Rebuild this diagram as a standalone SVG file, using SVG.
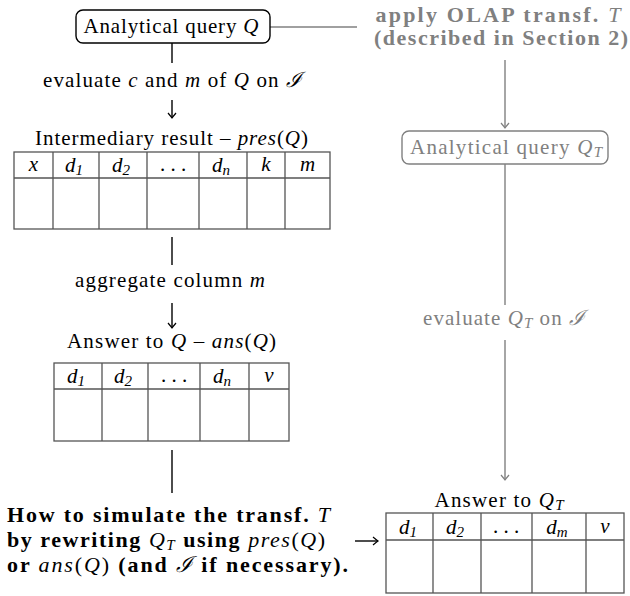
<svg xmlns="http://www.w3.org/2000/svg" width="630" height="596" viewBox="0 0 630 596">
<style>
text{font-family:"Liberation Serif","DejaVu Serif",serif;font-size:21px;fill:#000}
.g{fill:#808080}
.b{font-weight:bold;font-size:22px}
.m{font-style:italic;font-weight:normal}
.s{font-size:15px}
.mid{text-anchor:middle}
.cal{font-family:"DejaVu Serif","Liberation Serif",serif;font-style:italic}
.tb{fill:none;stroke:#555;stroke-width:1.3}
.box{fill:#fff;stroke:#000;stroke-width:1.4}
.gbox{fill:#fff;stroke:#808080;stroke-width:1.4}
.cb{stroke:#000;stroke-width:1.4;fill:none}
.cg{stroke:#808080;stroke-width:1.4;fill:none}
</style>
<defs>
<marker id="ab" markerUnits="userSpaceOnUse" markerWidth="12" markerHeight="12" viewBox="-6 -6 12 12" refX="0" refY="0" orient="auto">
<path d="M-5,-4 Q-1.5,-1 0,0 Q-1.5,1 -5,4" fill="none" stroke="#000" stroke-width="1.2"/>
</marker>
<marker id="ag" markerUnits="userSpaceOnUse" markerWidth="12" markerHeight="12" viewBox="-6 -6 12 12" refX="0" refY="0" orient="auto">
<path d="M-5,-4 Q-1.5,-1 0,0 Q-1.5,1 -5,4" fill="none" stroke="#808080" stroke-width="1.2"/>
</marker>
</defs>

<g id="connectors">
<line class="cg" x1="270" y1="27" x2="357" y2="27"/>
<line class="cg" x1="505" y1="60" x2="505" y2="128" marker-end="url(#ag)"/>
<line class="cg" x1="505" y1="164" x2="505" y2="305"/>
<line class="cg" x1="505" y1="340" x2="505" y2="480" marker-end="url(#ag)"/>
<line class="cb" x1="172" y1="43" x2="172" y2="63"/>
<line class="cb" x1="172" y1="100" x2="172" y2="118" marker-end="url(#ab)"/>
<line class="cb" x1="172" y1="237" x2="172" y2="265"/>
<line class="cb" x1="172" y1="303" x2="172" y2="328" marker-end="url(#ab)"/>
<line class="cb" x1="172" y1="450" x2="172" y2="493"/>
<line class="cb" x1="355" y1="541" x2="378" y2="541" marker-end="url(#ab)"/>
<text class="mid" x="172.5" y="87" textLength="259" lengthAdjust="spacing">evaluate <tspan class="m">c</tspan> and <tspan class="m">m</tspan> of <tspan class="m">Q</tspan> on <tspan class="cal">ℐ</tspan></text>
<text class="mid" x="170" y="287" textLength="190" lengthAdjust="spacing">aggregate column <tspan class="m">m</tspan></text>
<text class="mid g" x="504" y="325" textLength="162" lengthAdjust="spacing">evaluate <tspan class="m">Q</tspan><tspan class="m s" dy="3">T</tspan><tspan dy="-3"> on </tspan><tspan class="cal">ℐ</tspan></text>
</g>

<g id="query-q">
<rect class="box" x="76" y="10" width="194" height="33" rx="7"/>
<text class="mid" x="171" y="33" textLength="175" lengthAdjust="spacing">Analytical query <tspan class="m">Q</tspan></text>
</g>

<g id="olap-label">
<text class="mid g b" x="498" y="22" textLength="245" lengthAdjust="spacing">apply OLAP transf. <tspan class="m">T</tspan></text>
<text class="mid g b" x="501" y="45" textLength="254" lengthAdjust="spacing">(described in Section 2)</text>
</g>

<g id="query-qt">
<rect class="gbox" x="402" y="131" width="206" height="33" rx="7"/>
<text class="mid g" x="506" y="154" textLength="192" lengthAdjust="spacing">Analytical query <tspan class="m">Q</tspan><tspan class="m s" dy="3">T</tspan></text>
</g>

<g id="pres">
<text class="mid" x="171.5" y="145" textLength="273" lengthAdjust="spacing">Intermediary result – <tspan class="m">pres</tspan>(<tspan class="m">Q</tspan>)</text>
<rect class="tb" x="14" y="152" width="316" height="77"/>
<path class="tb" d="M14,178H330M53,152V229M99,152V229M147,152V229M199,152V229M247,152V229M285,152V229"/>
<text class="mid m" x="33.5" y="171">x</text>
<text class="mid m" x="74" y="172">d<tspan class="s" dy="3">1</tspan></text>
<text class="mid m" x="121" y="172">d<tspan class="s" dy="3">2</tspan></text>
<text class="mid" x="173" y="171">. . .</text>
<text class="mid m" x="221" y="172">d<tspan class="s" dy="3">n</tspan></text>
<text class="mid m" x="266" y="171">k</text>
<text class="mid m" x="307.5" y="171">m</text>
</g>

<g id="ans">
<text class="mid" x="171.5" y="348" textLength="209" lengthAdjust="spacing">Answer to <tspan class="m">Q</tspan> – <tspan class="m">ans</tspan>(<tspan class="m">Q</tspan>)</text>
<rect class="tb" x="54" y="363" width="235" height="78"/>
<path class="tb" d="M54,389H289M102,363V441M148,363V441M200,363V441M249,363V441"/>
<text class="mid m" x="76" y="383">d<tspan class="s" dy="3">1</tspan></text>
<text class="mid m" x="123" y="383">d<tspan class="s" dy="3">2</tspan></text>
<text class="mid" x="174" y="382">. . .</text>
<text class="mid m" x="222" y="383">d<tspan class="s" dy="3">n</tspan></text>
<text class="mid m" x="269" y="382">v</text>
</g>

<g id="question">
<text class="b" x="7" y="522" textLength="323" lengthAdjust="spacing">How to simulate the transf. <tspan class="m">T</tspan></text>
<text class="b" x="7" y="547" textLength="318" lengthAdjust="spacing">by rewriting <tspan class="m">Q</tspan><tspan class="m s" dy="3">T</tspan><tspan dy="-3"> using </tspan><tspan class="m">pres</tspan><tspan font-weight="normal">(</tspan><tspan class="m">Q</tspan><tspan font-weight="normal">)</tspan></text>
<text class="b" x="7" y="572" textLength="341" lengthAdjust="spacing">or <tspan class="m">ans</tspan><tspan font-weight="normal">(</tspan><tspan class="m">Q</tspan><tspan font-weight="normal">)</tspan> (and <tspan class="cal" font-weight="normal">ℐ</tspan> if necessary).</text>
</g>

<g id="ans-qt">
<text class="mid" x="499" y="507" textLength="129" lengthAdjust="spacing">Answer to <tspan class="m">Q</tspan><tspan class="m s" dy="3">T</tspan></text>
<rect class="tb" x="386" y="513" width="238" height="80"/>
<path class="tb" d="M386,540H624M433,513V593M481,513V593M532,513V593M586,513V593"/>
<text class="mid m" x="408" y="534">d<tspan class="s" dy="3">1</tspan></text>
<text class="mid m" x="455" y="534">d<tspan class="s" dy="3">2</tspan></text>
<text class="mid" x="506" y="533">. . .</text>
<text class="mid m" x="557" y="534">d<tspan class="s" dy="3">m</tspan></text>
<text class="mid m" x="605" y="533">v</text>
</g>
</svg>
